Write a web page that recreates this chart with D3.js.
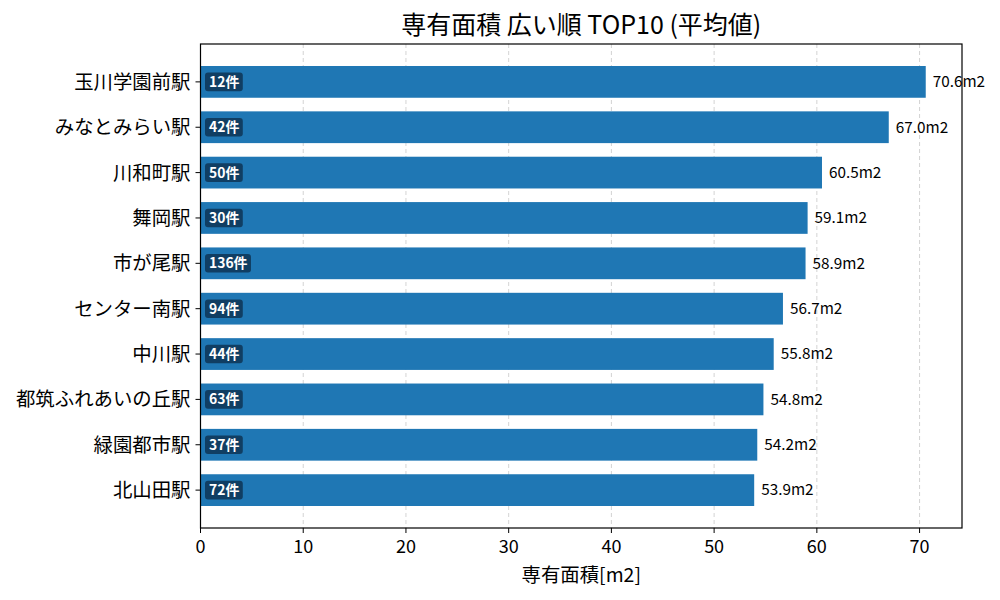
<!DOCTYPE html>
<html><head><meta charset="utf-8">
<script src="https://cdn.jsdelivr.net/npm/d3@7"></script>
<style>body{margin:0;background:#fff;} text{font-family:"Noto Sans CJK JP","Noto Sans",sans-serif;}</style>
</head><body><svg id="c" width="1000" height="600"></svg>
<script>
const stations = ["玉川学園前駅","みなとみらい駅","川和町駅","舞岡駅","市が尾駅","センター南駅","中川駅","都筑ふれあいの丘駅","緑園都市駅","北山田駅"];
const areas = [70.6,67.0,60.5,59.1,58.9,56.7,55.8,54.8,54.2,53.9];
const counts = [12,42,50,30,136,94,44,63,37,72];
const xTicks = [0,10,20,30,40,50,60,70];

const svg = d3.select("#c");
const L=200.5,R=962,T=44,B=528;
const x = d3.scaleLinear().domain([0, d3.max(areas)*1.05]).range([L,R]);
const y = d3.scaleLinear().domain([-0.835, 9.835]).range([T,B]);
const bh = 0.7;

// grid
svg.append("g").selectAll("line").data(xTicks).join("line")
  .attr("x1",d=>x(d)).attr("x2",d=>x(d)).attr("y1",T).attr("y2",B)
  .attr("stroke","#b0b0b0").attr("stroke-opacity",0.7).attr("stroke-dasharray","4,3").attr("stroke-width",0.8);

// bars
svg.append("g").selectAll("rect").data(areas).join("rect")
  .attr("x",x(0)).attr("width",d=>x(d)-x(0))
  .attr("y",(d,i)=>y(i-bh/2)).attr("height",y(bh)-y(0))
  .attr("fill","#1f77b4");

// value labels
svg.append("g").selectAll("text").data(areas).join("text")
  .attr("x",d=>x(d)+7).attr("y",(d,i)=>y(i)).attr("dy","0.35em")
  .attr("font-size",15.3).attr("fill","#000").text(d=>d.toFixed(1)+"m2");

// badges
const bg = svg.append("g").selectAll("g").data(counts).join("g")
  .attr("transform",(d,i)=>`translate(${x(0)+4.5},${y(i)})`);
bg.append("text").attr("class","bt").attr("x",4).attr("dy","0.36em")
  .attr("font-size",13.9).attr("font-weight","bold").attr("fill","#fff").text(d=>d+"件");
bg.each(function(){
  const g=d3.select(this); const t=g.select("text"); const w=t.node().getComputedTextLength();
  g.insert("rect","text").attr("x",0).attr("y",-9.3).attr("width",w+7.5).attr("height",18.6)
   .attr("rx",3).attr("fill","#0f3a5c").attr("fill-opacity",0.92);
});

// frame
svg.append("rect").attr("x",L).attr("y",T).attr("width",R-L).attr("height",B-T)
  .attr("fill","none").attr("stroke","#000").attr("stroke-width",1.2);

// y axis ticks/labels
const yg = svg.append("g");
yg.selectAll("line").data(stations).join("line")
  .attr("x1",L-5).attr("x2",L).attr("y1",(d,i)=>y(i)).attr("y2",(d,i)=>y(i)).attr("stroke","#000");
yg.selectAll("text").data(stations).join("text")
  .attr("x",L-10).attr("y",(d,i)=>y(i)).attr("dy","0.36em").attr("text-anchor","end")
  .attr("font-size",19.4).attr("fill","#000").text(d=>d);

// x axis
const xg = svg.append("g");
xg.selectAll("line").data(xTicks).join("line")
  .attr("x1",d=>x(d)).attr("x2",d=>x(d)).attr("y1",B).attr("y2",B+5).attr("stroke","#000");
xg.selectAll("text").data(xTicks).join("text")
  .attr("x",d=>x(d)).attr("y",B+24.5).attr("text-anchor","middle")
  .attr("font-size",18).attr("fill","#000").text(d=>d);

svg.append("text").attr("x",(L+R)/2).attr("y",582).attr("text-anchor","middle")
  .attr("font-size",19.4).text("専有面積[m2]");
svg.append("text").attr("x",(L+R)/2).attr("y",34).attr("text-anchor","middle")
  .attr("font-size",25).text("専有面積 広い順 TOP10 (平均値)");
</script></body></html>
